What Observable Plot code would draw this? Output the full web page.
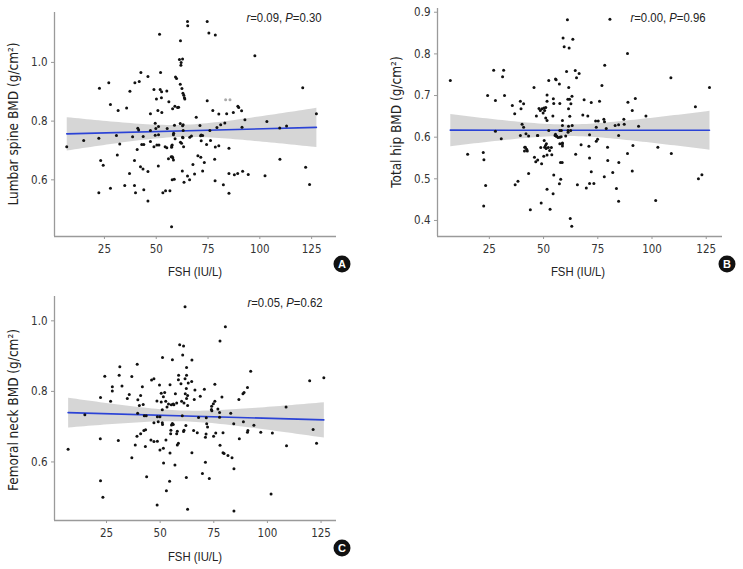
<!DOCTYPE html>
<html><head><meta charset="utf-8">
<script src="https://cdn.jsdelivr.net/npm/d3@7"></script>
<script src="https://cdn.jsdelivr.net/npm/@observablehq/plot@0.6"></script>
<style>
body{margin:0;background:#fff;}
#wrap{position:relative;width:743px;height:569px;overflow:hidden;font-family:"Liberation Sans Narrow","DejaVu Sans Condensed",sans-serif;color:#222;}
.panel{position:absolute;}
.lab{position:absolute;white-space:nowrap;transform:translate(-50%,-50%);font-size:13.5px;}
.ylab{transform:translate(-50%,-50%) rotate(-90deg);}
.nar{font-family:"Liberation Sans",Arial,sans-serif;font-size:13.5px;transform:translate(-50%,-50%) scaleX(0.84);}
.badge{position:absolute;width:17px;height:17px;border-radius:50%;background:#111;color:#fff;font:bold 11px "Liberation Sans",Arial,sans-serif;text-align:center;line-height:17px;transform:translate(-50%,-50%);}
</style>
</head><body>
<div id="wrap"></div>
<script>
const FONT = '"Liberation Sans Narrow","DejaVu Sans Condensed",sans-serif';

// FSH (IU/L) vs lumbar spine BMD (g/cm²)
const lumbarSpine = [[6.8,0.713],[15,0.734],[22.3,0.742],[22.6,0.912],[27.1,0.931],[27.9,0.857],[30.8,0.751],[31.6,0.836],[32.4,0.722],[35.7,0.845],[37.3,0.902],[38.6,0.747],[39.7,0.931],[41.1,0.776],[41.5,0.77],[41.8,0.935],[42.6,0.966],[43,0.72],[44,0.72],[43.7,0.748],[46,0.952],[47.2,0.825],[47.2,0.768],[48.9,0.908],[49.5,0.793],[49.8,0.775],[50.1,0.875],[50.8,0.836],[51.1,0.782],[51.6,1.096],[52.1,0.966],[51.9,0.908],[52.6,0.9],[52.5,0.88],[52.7,0.829],[55.1,0.903],[55.3,0.775],[56.1,0.866],[57.9,0.842],[58.4,0.759],[58.8,0.786],[59.3,0.95],[59.8,0.945],[60.8,0.847],[61.2,1.01],[62,1.0],[62.7,1.012],[61.7,1.074],[61.9,0.99],[61.6,0.926],[62.4,0.911],[62.9,0.895],[63.3,0.888],[63.6,0.88],[63.8,0.875],[63,0.788],[65.1,1.139],[65.2,1.125],[74.6,1.139],[75.4,1.1],[78.5,1.093],[97.6,1.023],[120.7,0.914],[74.6,0.869],[77.3,0.836],[80.2,0.824],[84,0.825],[87.2,0.829],[89.4,0.851],[89.8,0.846],[91.2,0.835],[92.8,0.805],[69.3,0.813],[71.1,0.785],[59,0.851],[60.3,0.846],[61.6,0.792],[62.7,0.784],[79.3,0.778],[81.1,0.788],[83.1,0.794],[91.4,0.779],[103.4,0.799],[109.6,0.777],[112.9,0.783],[127.3,0.825],[63,0.768],[58.3,0.754],[75.9,0.768],[71.7,0.753],[72.4,0.751],[67,0.749],[66.2,0.745],[62.7,0.745],[59.1,0.74],[61.7,0.728],[62.9,0.743],[71.4,0.75],[62.2,0.725],[63.2,0.713],[57.7,0.719],[57.4,0.711],[71.7,0.733],[74.3,0.72],[76.2,0.734],[78.5,0.712],[80.2,0.716],[85.1,0.708],[57.2,0.679],[58,0.675],[58.3,0.668],[70.1,0.682],[71.5,0.677],[73.2,0.659],[67.7,0.652],[78.2,0.67],[109.7,0.67],[122.1,0.643],[62.6,0.63],[65.1,0.613],[66.1,0.6],[68.5,0.62],[63.4,0.592],[72.4,0.63],[57.7,0.6],[58.7,0.602],[78.4,0.597],[82.4,0.583],[85.1,0.622],[87.7,0.617],[89.3,0.622],[91.7,0.629],[94.4,0.618],[85.1,0.554],[102.5,0.614],[124,0.584],[57.4,0.44],[23.2,0.666],[24.4,0.65],[22.3,0.556],[27.9,0.571],[31.2,0.685],[37.1,0.622],[34.8,0.581],[39.5,0.666],[39.5,0.581],[40,0.556],[40.8,0.703],[42.4,0.645],[43.6,0.637],[44,0.566],[46,0.628],[46,0.528],[47.2,0.731],[48.9,0.713],[50.3,0.719],[51.3,0.719],[49.5,0.752],[51.1,0.754],[51,0.647],[53.2,0.556],[54.5,0.563],[56.6,0.563],[54.3,0.713],[55.1,0.709],[55.9,0.672],[57.7,0.679],[57.5,0.716]];
const lumbarSpineFaint = [[83.5,0.873],[85.6,0.873]];

// FSH (IU/L) vs total hip BMD (g/cm²)
const totalHip = [[7,0.736],[27,0.761],[31.6,0.761],[31.1,0.745],[24.2,0.70],[27.8,0.688],[32,0.70],[27.8,0.614],[30.5,0.596],[35.6,0.676],[36.7,0.656],[39.3,0.686],[39.6,0.668],[40.8,0.68],[40.1,0.631],[40.8,0.624],[39.3,0.604],[41.9,0.608],[43.1,0.603],[41.3,0.576],[42.2,0.571],[45.6,0.719],[46.7,0.651],[47.9,0.669],[48.5,0.664],[49.3,0.668],[50.2,0.67],[50.5,0.664],[51,0.671],[49.8,0.658],[52.4,0.736],[55.8,0.738],[57.3,0.728],[51.6,0.701],[51.6,0.686],[51,0.646],[51.6,0.64],[54.5,0.692],[54.7,0.681],[55.3,0.604],[55.9,0.602],[58.2,0.616],[60.6,0.758],[59,0.838],[59.5,0.817],[61.8,0.814],[61,0.882],[61.6,0.719],[61.2,0.691],[58.7,0.64],[60.2,0.603],[61.3,0.612],[58.7,0.579],[47.2,0.604],[50.3,0.592],[50.9,0.58],[52.4,0.616],[54.3,0.651],[80.6,0.883],[63.5,0.835],[88.7,0.801],[78.2,0.773],[64.6,0.76],[66.4,0.753],[65.2,0.743],[55.5,0.74],[108.7,0.743],[126.5,0.719],[76.9,0.724],[63.1,0.698],[62,0.691],[62.6,0.68],[61.5,0.668],[57.5,0.681],[68.7,0.69],[72,0.683],[75.8,0.686],[88.9,0.684],[92.3,0.693],[90.9,0.664],[120,0.673],[97.2,0.651],[62.1,0.65],[68.1,0.653],[70.4,0.651],[74,0.639],[75.2,0.639],[77.8,0.643],[78.1,0.637],[87,0.643],[87.2,0.631],[83,0.628],[84.6,0.63],[93.8,0.626],[74.3,0.624],[78.9,0.621],[58.7,0.628],[63.2,0.628],[61.5,0.626],[61.3,0.616],[57.5,0.616],[62.5,0.616],[55.5,0.607],[56,0.603],[57.5,0.60],[71.2,0.606],[84.6,0.604],[74.3,0.59],[74.9,0.595],[67.3,0.582],[70.9,0.578],[58.7,0.586],[79.5,0.576],[91.2,0.58],[102.7,0.576],[15,0.559],[22.2,0.563],[22.5,0.546],[23.3,0.484],[22.4,0.435],[36.9,0.486],[38.2,0.494],[41.6,0.576],[41.2,0.567],[42.5,0.567],[43.1,0.513],[43.9,0.426],[47.3,0.604],[48.7,0.575],[50.5,0.576],[51.3,0.584],[51.2,0.573],[52.2,0.575],[52.8,0.568],[53.6,0.575],[53.8,0.558],[51.6,0.557],[45.8,0.552],[46.4,0.541],[47.3,0.545],[49.1,0.536],[50.1,0.554],[51.6,0.475],[48.9,0.442],[53,0.427],[54.4,0.464],[54.7,0.509],[57.3,0.488],[57.9,0.499],[57.8,0.539],[58.6,0.539],[58.7,0.584],[57.5,0.584],[56.7,0.599],[58.1,0.601],[108.9,0.561],[64.8,0.559],[88.7,0.561],[71.2,0.55],[79.6,0.544],[84.7,0.539],[72,0.517],[81.9,0.515],[90.9,0.519],[78,0.505],[65.6,0.486],[71.2,0.489],[73.2,0.489],[69.7,0.478],[83.6,0.477],[121.4,0.5],[123,0.51],[84.6,0.446],[101.7,0.448],[62.3,0.405],[63,0.386]];

// FSH (IU/L) vs femoral neck BMD (g/cm²)
const femoralNeck = [[14.9,0.734],[22.2,0.783],[24.2,0.843],[27.7,0.813],[27.7,0.801],[26.9,0.772],[31.2,0.87],[30.9,0.846],[32.2,0.815],[34.7,0.78],[35.6,0.791],[36.8,0.842],[39.3,0.877],[41.7,0.813],[39.6,0.776],[40.9,0.788],[40.3,0.76],[42.1,0.763],[39.5,0.738],[42.6,0.731],[43.5,0.731],[46,0.832],[47.1,0.836],[48.5,0.773],[49.7,0.818],[51.1,0.896],[50.5,0.795],[52.1,0.797],[51.5,0.785],[50.5,0.77],[52.6,0.772],[48.7,0.728],[49.9,0.728],[51,0.748],[53.2,0.756],[53.9,0.764],[54.6,0.819],[55.7,0.89],[57.1,0.793],[55.2,0.762],[56.4,0.762],[55.7,0.709],[58.6,0.846],[58.5,0.833],[59.1,0.932],[60.9,0.929],[60.5,0.903],[61.6,1.04],[60,0.772],[61.1,0.767],[61.7,0.793],[62.2,0.808],[62.3,0.868],[62.3,0.846],[60.3,0.731],[80.4,0.983],[77.9,0.943],[64.8,0.889],[92.2,0.857],[61.6,0.836],[64.7,0.828],[63.1,0.824],[59.7,0.822],[75.5,0.82],[66.2,0.804],[70.6,0.806],[90.7,0.811],[89.1,0.797],[88.6,0.793],[62.8,0.788],[62.3,0.78],[68.7,0.786],[78.8,0.784],[86.7,0.777],[57.7,0.767],[56.1,0.764],[62.8,0.76],[65.9,0.777],[75.5,0.772],[74.8,0.765],[74,0.758],[73.9,0.749],[74.1,0.745],[76.9,0.75],[77.7,0.74],[82.9,0.738],[108.7,0.756],[119.7,0.83],[126.3,0.839],[67.9,0.726],[71.5,0.725],[77.7,0.727],[62,0.703],[71.7,0.708],[72.1,0.699],[84.3,0.708],[88.8,0.714],[93.7,0.704],[121.3,0.692],[55,0.69],[58,0.687],[61.1,0.69],[65.6,0.689],[67.3,0.683],[71.4,0.679],[75.9,0.682],[79.3,0.683],[96.9,0.684],[102.3,0.682],[7.1,0.636],[22.1,0.666],[22.2,0.547],[23.3,0.50],[30.5,0.661],[36.8,0.612],[38.4,0.648],[39.2,0.673],[40.9,0.68],[42.4,0.689],[43.2,0.691],[43.1,0.644],[43.7,0.558],[45.7,0.662],[47.1,0.658],[48.7,0.659],[47.1,0.711],[49.1,0.714],[51.1,0.706],[51,0.711],[48.6,0.478],[49.9,0.634],[51.5,0.639],[51.6,0.597],[52.7,0.662],[52.9,0.518],[54.4,0.545],[54.6,0.625],[54.9,0.68],[55.3,0.705],[56.1,0.706],[56.9,0.591],[57.7,0.68],[58,0.648],[58.5,0.653],[60.9,0.686],[62.2,0.556],[62.8,0.466],[71.1,0.67],[74.9,0.673],[90.9,0.689],[90.7,0.684],[86.9,0.666],[122.9,0.653],[108.9,0.646],[77.9,0.647],[79.3,0.626],[79.8,0.624],[81.6,0.618],[83.5,0.612],[64.8,0.626],[84.4,0.581],[71.1,0.599],[69.7,0.567],[72.9,0.553],[101.7,0.509],[84.4,0.461]];

const xTicks = [25, 50, 75, 100, 125];
const yTicksSpine = [0.6, 0.8, 1.0];
const yTicksHip = [0.4, 0.5, 0.6, 0.7, 0.8, 0.9];
const yTicksNeck = [0.6, 0.8, 1.0];

const panels = [
  {id: "A", data: lumbarSpine, faint: lumbarSpineFaint, left: 0, top: 0, w: 345, h: 285, ml: 54, mr: 9, mt: 12, mb: 49, xd: [0.9, 137], yd: [0.407, 1.17], yt: yTicksSpine,
   ylab: "Lumbar spine BMD (g/cm²)", ylx: 13, yly: 124, stat: ["0.09", "0.30"], sx: 284, sy: 17, xlx: 195, xly: 271, bx: 342, by: 264},
  {id: "B", data: totalHip, faint: [], left: 383, top: 0, w: 345, h: 285, ml: 54, mr: 6, mt: 8, mb: 49, xd: [1.1, 132.5], yd: [0.3615, 0.909], yt: yTicksHip,
   ylab: "Total hip BMD (g/cm²)", ylx: 396, yly: 122, stat: ["0.00", "0.96"], sx: 668, sy: 17, xlx: 578, xly: 271, bx: 727, by: 264},
  {id: "C", data: femoralNeck, faint: [], left: 0, top: 285, w: 345, h: 284, ml: 54, mr: 9, mt: 11, mb: 49, xd: [0.75, 132.2], yd: [0.434, 1.069], yt: yTicksNeck,
   ylab: "Femoral neck  BMD (g/cm²)", ylx: 13, yly: 410, stat: ["0.05", "0.62"], sx: 285, sy: 302, xlx: 195, xly: 556, bx: 342, by: 548}
];

const wrap = document.getElementById("wrap");
for (const p of panels) {
  const pts = p.data.map(([x, y]) => ({x, y}));
  const faint = p.faint.map(([x, y]) => ({x, y}));
  const chart = Plot.plot({
    width: p.w, height: p.h,
    marginLeft: p.ml, marginRight: p.mr, marginTop: p.mt, marginBottom: p.mb,
    style: {fontFamily: FONT, fontSize: "11.5px", background: "transparent", color: "#333", overflow: "visible"},
    x: {domain: p.xd},
    y: {domain: p.yd},
    marks: [
      Plot.linearRegressionY(pts, {x: "x", y: "y", ci: 0.95, stroke: "#2b43d6", strokeWidth: 1.6, fill: "#d2d2d2", fillOpacity: 0.9}),
      Plot.ruleX([p.xd[0]], {stroke: "#9a9a9a", strokeWidth: 1.3}),
      Plot.ruleY([p.yd[0]], {stroke: "#9a9a9a", strokeWidth: 1.3}),
      Plot.axisX(xTicks, {tickSize: 3, tickPadding: 5, label: null, stroke: "#9a9a9a", fill: "#333"}),
      Plot.axisY(p.yt, {tickSize: 3, tickPadding: 4, label: null, tickFormat: d => d.toFixed(1), stroke: "#9a9a9a", fill: "#333"}),
      Plot.dot(faint, {x: "x", y: "y", r: 1.5, fill: "#aaa", stroke: null}),
      Plot.dot(pts, {x: "x", y: "y", r: 1.5, fill: "#111", stroke: null})
    ]
  });
  const div = document.createElement("div");
  div.className = "panel";
  div.style.left = p.left + "px";
  div.style.top = p.top + "px";
  div.appendChild(chart);
  wrap.appendChild(div);

  const yl = document.createElement("div");
  yl.className = "lab ylab";
  yl.style.left = p.ylx + "px"; yl.style.top = p.yly + "px";
  yl.textContent = p.ylab;
  wrap.appendChild(yl);

  const xl = document.createElement("div");
  xl.className = "lab nar";
  xl.style.left = p.xlx + "px"; xl.style.top = p.xly + "px";
  xl.textContent = "FSH (IU/L)";
  wrap.appendChild(xl);

  const st = document.createElement("div");
  st.className = "lab nar";
  st.style.left = p.sx + "px"; st.style.top = p.sy + "px";
  st.innerHTML = `<i>r</i>=${p.stat[0]}, <i>P</i>=${p.stat[1]}`;
  wrap.appendChild(st);

  const b = document.createElement("div");
  b.className = "badge";
  b.style.left = p.bx + "px"; b.style.top = p.by + "px";
  b.textContent = p.id;
  wrap.appendChild(b);
}
</script>
</body></html>
